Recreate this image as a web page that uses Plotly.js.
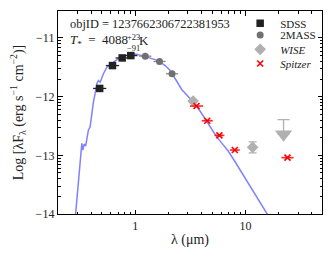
<!DOCTYPE html>
<html>
<head>
<meta charset="utf-8">
<script src="https://cdn.plot.ly/plotly-3.0.1.min.js"></script>
<style>html,body{margin:0;padding:0;background:#fff;}#chart{width:332px;height:261px;}</style>
</head>
<body>
<div id="chart"></div>
<script>
// ---- data (wavelength in micron, value = log10 of lambda*F_lambda) ----
const modelWave = [0.2858,0.3061,0.3172,0.3287,0.3356,0.3448,0.3557,0.3671,0.3772,0.3908,0.4049,0.4185,0.4338,0.4494,0.4647,0.4816,0.4969,0.5160,0.5539,0.5810,0.6146,0.6451,0.6867,0.7311,0.7783,0.8463,0.9199,1.000,1.110,1.232,1.368,1.518,1.686,1.871,2.077,2.211,2.353,2.470,2.559,2.651,2.840,3.152,3.499,3.884,4.311,4.786,5.426,6.150,6.970,8.066,9.938,12.24,15.09,16.06];
const modelLogF = [-14.097,-13.419,-13.080,-12.797,-12.910,-12.808,-12.842,-12.656,-12.571,-12.515,-12.232,-12.092,-11.949,-11.780,-11.724,-11.753,-11.690,-11.610,-11.498,-11.470,-11.453,-11.402,-11.368,-11.334,-11.317,-11.292,-11.283,-11.275,-11.292,-11.317,-11.342,-11.368,-11.410,-11.470,-11.554,-11.639,-11.741,-11.808,-11.837,-11.881,-11.944,-12.037,-12.131,-12.249,-12.385,-12.520,-12.673,-12.800,-12.927,-13.114,-13.385,-13.656,-13.944,-14.029];

const sdssWave = [0.477, 0.623, 0.763, 0.913];
const sdssLogF = [-11.86, -11.47, -11.34, -11.30];
const sdssHalfDex = [0.06, 0.06, 0.06, 0.06];

const tmassWave = [1.235, 1.662, 2.159];
const tmassLogF = [-11.31, -11.40, -11.61];
const tmassHalfDex = [0.055, 0.055, 0.055];

const wiseWave = [3.35, 11.6];
const wiseLogF = [-12.075, -12.864];
const wiseErr = [0, 0.093];
const wiseHalfDex = [0.04, 0];

const wiseLimitWave = [22.1];
const wiseLimitLogF = [-12.64];
const wiseLimitUp = [0.25];

const spitzerWave = [3.6, 4.5, 5.8, 8.0, 24.0];
const spitzerLogF = [-12.16, -12.41, -12.66, -12.91, -13.04];
const spitzerHalfDex = [0.06, 0.05, 0.045, 0.045, 0.055];

const yMajor = [-14, -13, -12, -11];
const xMajor = [1, 10];
const xMajorText = ['1', '10'];

// ---- helpers ----
function errX(w, d) {
  return {
    type: 'data', symmetric: false,
    array: w.map((v, i) => v * (Math.pow(10, d[i]) - 1)),
    arrayminus: w.map((v, i) => v * (1 - Math.pow(10, -d[i]))),
    thickness: 1.3, width: 0
  };
}
const FONT = 'Liberation Serif, Times New Roman, serif';

const yMinor = [];
[-14, -13, -12].forEach(n => { for (let k = 2; k <= 9; k++) yMinor.push(n + Math.log10(k)); });
const xMinor = [];
[0.1, 1, 10].forEach(base => { for (let k = 2; k <= 9; k++) xMinor.push(base * k); });

const traces = [
  {
    x: modelWave, y: modelLogF, type: 'scatter', mode: 'lines',
    line: {color: 'rgba(115,115,255,0.9)', width: 1.5},
    showlegend: false, hoverinfo: 'skip'
  },
  {
    x: sdssWave, y: sdssLogF, type: 'scatter', mode: 'markers', name: 'SDSS', legend: 'legend',
    marker: {symbol: 'square', size: 7.5, color: '#222'},
    error_x: Object.assign(errX(sdssWave, sdssHalfDex), {color: '#222'})
  },
  {
    x: tmassWave, y: tmassLogF, type: 'scatter', mode: 'markers', name: '2MASS', legend: 'legend2',
    marker: {symbol: 'circle', size: 7, color: '#707070'},
    error_x: Object.assign(errX(tmassWave, tmassHalfDex), {color: '#888'})
  },
  {
    x: wiseWave, y: wiseLogF, type: 'scatter', mode: 'markers', name: '<i>WISE</i>', legend: 'legend3',
    legendgroup: 'wise',
    marker: {symbol: 'diamond', size: 9, color: '#b0b0b0'},
    error_x: Object.assign(errX(wiseWave, wiseHalfDex), {color: '#b0b0b0'}),
    error_y: {type: 'data', array: wiseErr, color: '#b0b0b0', thickness: 1.3, width: 4}
  },
  {
    x: wiseLimitWave, y: wiseLimitLogF, type: 'scatter', mode: 'markers', legend: 'legend3',
    legendgroup: 'wise', showlegend: false,
    marker: {symbol: 'triangle-down', size: 15, color: '#b0b0b0'},
    error_y: {type: 'data', symmetric: false, array: wiseLimitUp, arrayminus: [0], color: '#b0b0b0', thickness: 1.3, width: 6}
  },
  {
    x: spitzerWave, y: spitzerLogF, type: 'scatter', mode: 'markers', name: '<i>Spitzer</i>', legend: 'legend4',
    marker: {symbol: 'x-thin', size: 6, color: 'red', line: {color: 'red', width: 1.6}},
    error_x: Object.assign(errX(spitzerWave, spitzerHalfDex), {color: 'rgba(255,0,0,0.85)', thickness: 1.6})
  }
];

const axisCommon = {
  showline: true, linecolor: '#000', linewidth: 1.2, mirror: 'allticks',
  ticks: 'inside', tickcolor: '#000', tickwidth: 1, showgrid: false, zeroline: false,
  tickfont: {family: FONT, size: 12, color: '#222'}
};

function legendAt(y) {
  return {
    x: 0.69, y: y, xanchor: 'left', yanchor: 'middle',
    bgcolor: 'rgba(0,0,0,0)', borderwidth: 0,
    font: {family: FONT, size: 11, color: '#222'}
  };
}

const layout = {
  width: 332, height: 261,
  margin: {l: 58, r: 10, t: 10, b: 47},
  paper_bgcolor: '#fff', plot_bgcolor: '#fff',
  font: {family: FONT, size: 12, color: '#222'},
  xaxis: Object.assign({}, axisCommon, {
    type: 'log', range: [Math.log10(0.2), Math.log10(49.3)],
    tickmode: 'array', tickvals: xMajor, ticktext: xMajorText, ticklen: 4.5,
    minor: {tickmode: 'array', tickvals: xMinor, ticks: 'inside', ticklen: 2.5, tickcolor: '#000', tickwidth: 1},
    title: {text: 'λ (μm)', font: {family: FONT, size: 14, color: '#222'}, standoff: 2}
  }),
  yaxis: Object.assign({}, axisCommon, {
    range: [-14, -10.54],
    tickmode: 'array', tickvals: yMajor, ticklen: 4.5,
    minor: {tickmode: 'array', tickvals: yMinor, ticks: 'inside', ticklen: 2.5, tickcolor: '#000', tickwidth: 1},
    title: {text: 'Log [λF<sub>λ</sub> (erg s<sup>−1</sup> cm<sup>−2</sup>)]', font: {family: FONT, size: 14, color: '#222'}, standoff: 8}
  }),
  legend: legendAt(0.935),
  legend2: legendAt(0.877),
  legend3: legendAt(0.807),
  legend4: legendAt(0.738),
  annotations: [
    {xref: 'paper', yref: 'paper', x: 0.038, y: 0.934, xanchor: 'left', yanchor: 'middle', showarrow: false,
     text: 'objID = 1237662306722381953', font: {family: FONT, size: 12.4, color: '#222'}},
    {xref: 'paper', yref: 'paper', x: 0.038, y: 0.853, xanchor: 'left', yanchor: 'middle', showarrow: false,
     text: '<i>T</i><sub>*</sub>\u00A0 = \u00A04088', font: {family: FONT, size: 13, color: '#222'}},
    {xref: 'paper', yref: 'paper', x: 0.252, y: 0.870, xanchor: 'left', yanchor: 'middle', showarrow: false,
     text: '+23', font: {family: FONT, size: 8.5, color: '#222'}},
    {xref: 'paper', yref: 'paper', x: 0.252, y: 0.820, xanchor: 'left', yanchor: 'middle', showarrow: false,
     text: '−91', font: {family: FONT, size: 8.5, color: '#222'}},
    {xref: 'paper', yref: 'paper', x: 0.300, y: 0.853, xanchor: 'left', yanchor: 'middle', showarrow: false,
     text: 'K', font: {family: FONT, size: 13, color: '#222'}}
  ]
};

Plotly.newPlot('chart', traces, layout, {staticPlot: true, displayModeBar: false});
</script>
</body>
</html>
